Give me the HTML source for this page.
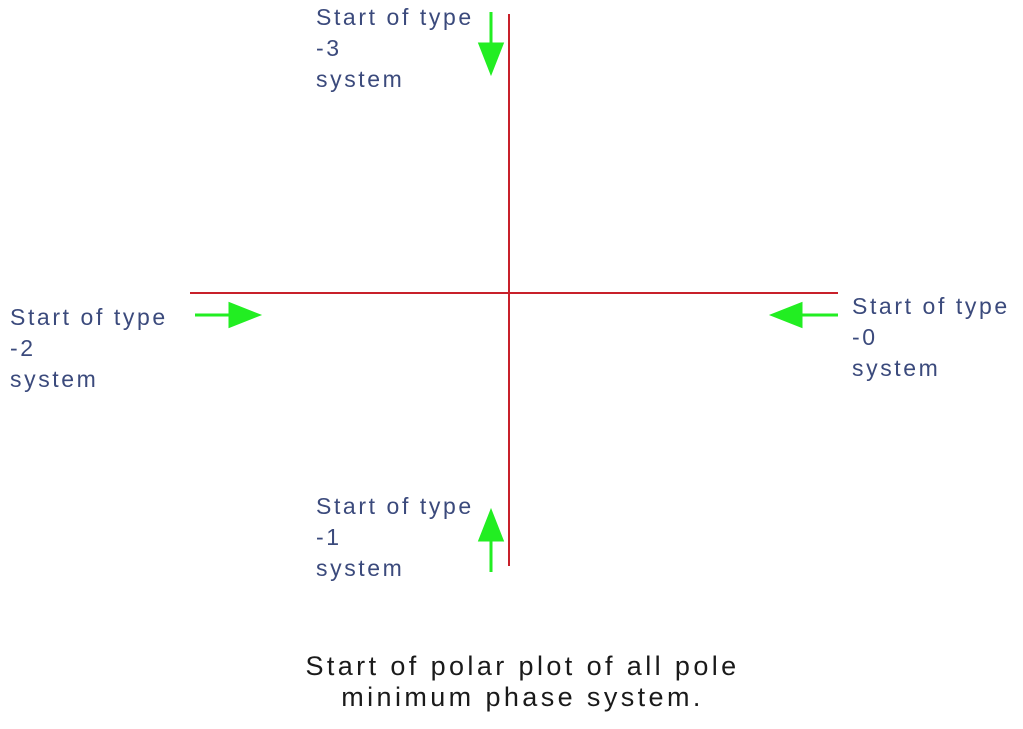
<!DOCTYPE html>
<html><head><meta charset="utf-8"><style>
html,body{margin:0;padding:0;background:#fff;}
body{width:1023px;height:729px;overflow:hidden;position:relative;font-family:"Liberation Sans",sans-serif;}
.lbl{position:absolute;color:#3b4a7c;font-size:23px;letter-spacing:2.6px;line-height:31px;}
.cap{position:absolute;left:0;width:1045px;text-align:center;color:#1a1a1a;font-size:27px;letter-spacing:3.4px;line-height:31px;top:651px;}
</style></head><body>
<svg width="1023" height="729" style="position:absolute;left:0;top:0">
<line x1="509" y1="14" x2="509" y2="566" stroke="#c8202a" stroke-width="2"/>
<line x1="190" y1="293" x2="838" y2="293" stroke="#c8202a" stroke-width="2"/>
<g stroke="#22ee22" stroke-width="3" fill="#22ee22">
<line x1="491" y1="12" x2="491" y2="52"/>
<path d="M480,44 L502,44 L491,72 Z"/>
<line x1="491" y1="572" x2="491" y2="532"/>
<path d="M480,540 L502,540 L491,512 Z"/>
<line x1="195" y1="315" x2="238" y2="315"/>
<path d="M230,304 L230,326 L258,315 Z"/>
<line x1="838" y1="315" x2="795" y2="315"/>
<path d="M801,304 L801,326 L773,315 Z"/>
</g>
</svg>
<div class="lbl" style="left:316px;top:2px">Start of type<br>-3<br>system</div>
<div class="lbl" style="left:10px;top:302px">Start of type<br>-2<br>system</div>
<div class="lbl" style="left:852px;top:291px">Start of type<br>-0<br>system</div>
<div class="lbl" style="left:316px;top:491px">Start of type<br>-1<br>system</div>
<div class="cap">Start of polar plot of all pole<br>minimum phase system.</div>
</body></html>
